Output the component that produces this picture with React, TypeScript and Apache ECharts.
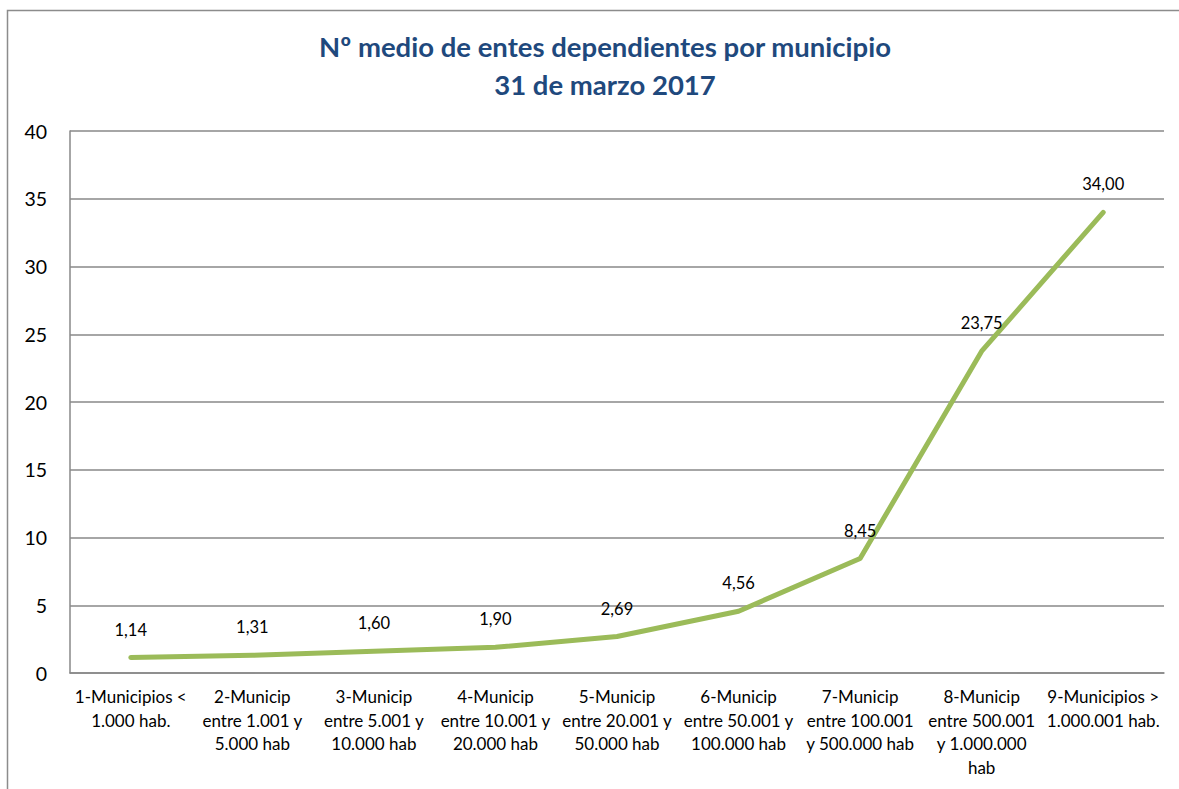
import React, { useEffect, useRef } from "react";
import * as echarts from "echarts";

const titleText = "Nº medio de entes dependientes por municipio\n31 de marzo 2017";

const categories = [
  "1-Municipios <\n1.000 hab.",
  "2-Municip\nentre 1.001 y\n5.000 hab",
  "3-Municip\nentre 5.001 y\n10.000 hab",
  "4-Municip\nentre 10.001 y\n20.000 hab",
  "5-Municip\nentre 20.001 y\n50.000 hab",
  "6-Municip\nentre 50.001 y\n100.000 hab",
  "7-Municip\nentre 100.001\ny 500.000 hab",
  "8-Municip\nentre 500.001\ny 1.000.000\nhab",
  "9-Municipios >\n1.000.001 hab.",
];

const values = [1.14, 1.31, 1.6, 1.9, 2.69, 4.56, 8.45, 23.75, 34.0];

const yMin = 0;
const yMax = 40;
const yInterval = 5;

export default function App() {
  const ref = useRef<HTMLDivElement>(null);

  useEffect(() => {
    if (!ref.current) return;
    const chart = echarts.init(ref.current, undefined, { renderer: "svg" });
    const font = "Lato, 'Open Sans', sans-serif";
    chart.setOption({
      animation: false,
      backgroundColor: "#ffffff",
      title: {
        text: titleText,
        left: 600,
        top: 22,
        textAlign: "center",
        textStyle: {
          fontFamily: font,
          fontWeight: "bold",
          fontSize: 27.5,
          lineHeight: 38,
          color: "#1F497D",
        },
      },
      graphic: [
        {
          type: "rect",
          shape: { x: 7.5, y: 10.5, width: 1300, height: 900 },
          style: { fill: "none", stroke: "#8c8c8c", lineWidth: 1.5 },
          silent: true,
          z: 0,
        },
      ],
      grid: { left: 70, right: 15, top: 131, bottom: 116, containLabel: false },
      xAxis: {
        type: "category",
        data: categories,
        boundaryGap: true,
        axisLine: { show: true, lineStyle: { color: "#888888", width: 1.5 } },
        axisTick: { show: false },
        axisLabel: {
          interval: 0,
          margin: 12,
          fontFamily: font,
          fontSize: 17,
          lineHeight: 23.5,
          color: "#000000",
          align: "center",
          verticalAlign: "top",
        },
      },
      yAxis: {
        type: "value",
        min: yMin,
        max: yMax,
        interval: yInterval,
        axisLine: { show: true, lineStyle: { color: "#888888", width: 1.5 } },
        axisTick: { show: false },
        splitLine: { show: true, lineStyle: { color: "#888888", width: 1.5 } },
        axisLabel: {
          margin: 23,
          fontFamily: font,
          fontSize: 19.5,
          color: "#000000",
        },
      },
      series: [
        {
          type: "line",
          data: values,
          smooth: false,
          symbol: "circle",
          symbolSize: 1,
          showSymbol: true,
          itemStyle: { color: "rgba(0,0,0,0)", borderWidth: 0 },
          lineStyle: { color: "#9BBB59", width: 5, cap: "round", join: "round" },
          label: {
            show: true,
            position: "top",
            distance: 19,
            fontFamily: font,
            fontSize: 16.5,
            color: "#000000",
            formatter: (p: any) => Number(p.value).toFixed(2).replace(".", ","),
          },
        },
      ],
    });
    return () => chart.dispose();
  }, []);

  return (
    <div
      ref={ref}
      style={{ position: "absolute", left: 0, top: 0, width: 1179, height: 789 }}
    />
  );
}
